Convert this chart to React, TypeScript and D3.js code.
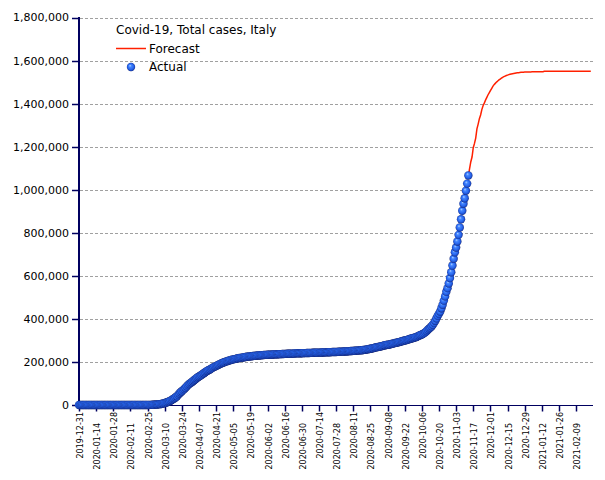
import React from "react";
import * as d3 from "d3";

const TITLE = "Covid-19, Total cases, Italy";
const SERIES_NAMES = ["Forecast", "Actual"];

// Actual: daily totals starting 2019-12-31
const ACTUAL_START = "2019-12-31";
const ACTUAL = [
  // Dec 31
  0,
  // Jan
  0, 0, 0, 0, 0, 0, 0, 0, 0, 0, 0, 0, 0, 0, 0, 0, 0, 0, 0, 0, 0, 0, 0, 0, 0, 0, 0, 0, 0, 0, 2,
  // Feb
  2, 2, 2, 2, 2, 2, 3, 3, 3, 3, 3, 3, 3, 3, 3, 3, 3, 3, 3, 3, 3, 20, 79, 155, 229, 322, 400, 650, 888,
  // Mar
  1128, 1694, 2036, 2502, 3089, 3858, 4636, 5883, 7375, 9172, 10149, 12462, 15113, 17660, 21157, 24747,
  27980, 31506, 35713, 41035, 47021, 53578, 59138, 63927, 69176, 74386, 80539, 86498, 92472, 97689, 101739,
  // Apr
  105792, 110574, 115242, 119827, 124632, 128948, 132547, 135586, 139422, 143626, 147577, 152271, 156363,
  159516, 162488, 165155, 168941, 172434, 175925, 178972, 181228, 183957, 187327, 189973, 192994, 195351,
  197675, 199414, 201505, 203591,
  // May
  205463, 207428, 209328, 210717, 211938, 213013, 214457, 215858, 217185, 218268, 219070, 219814, 221216,
  222104, 223096, 223885, 224760, 225435, 225886, 226699, 227364, 228006, 228658, 229327, 229858, 230158,
  230555, 231139, 231732, 232248, 232664,
  // Jun
  233019, 233197, 233515, 233836, 234013, 234531, 234801, 234998, 235278, 235561, 235763, 236142, 236305,
  236651, 236989, 237290, 237500, 237828, 238159, 238275, 238499, 238720, 238833, 239410, 239706, 239961,
  240136, 240310, 240436, 240578,
  // Jul
  240760, 240961, 241184, 241419, 241611, 241819, 241956, 242149, 242363, 242639, 242827, 243061, 243230,
  243344, 243506, 243736, 243967, 244216, 244434, 244624, 244752, 245032, 245338, 245590, 245864, 246118,
  246286, 246488, 246776, 247158, 247537,
  // Aug
  247832, 248070, 248229, 248419, 248803, 249204, 249756, 250103, 250566, 250825, 251237, 251713, 252235,
  252809, 253438, 253915, 254235, 254636, 255278, 256118, 257065, 258136, 259345, 260298, 261174, 262540,
  263949, 265409, 266853, 268218, 269214,
  // Sep
  270189, 271515, 272912, 274644, 276338, 277634, 278784, 279890, 280153, 281583, 283180, 284796, 286297,
  287753, 288761, 289990, 291442, 293025, 294932, 296569, 298156, 299506, 300897, 302537, 304323, 306235,
  308104, 309870, 311364, 313011,
  // Oct
  314861, 317409, 319908, 322751, 325329, 327586, 330263, 333940, 338398, 343770, 349494, 354950, 359569,
  365467, 372799, 381602, 391611, 402536, 414241, 423578, 434449, 449648, 465726, 484869, 504509, 525782,
  542789, 564778, 589766, 616595, 647674,
  // Nov 1-13
  679430, 709335, 731588, 759829, 790377, 824879, 862681, 902490, 935104, 960373, 995463, 1028424, 1066401,
];

// Forecast: daily totals starting 2020-11-13
const FORECAST_START = "2020-11-13";
const FORECAST = [
  1066000, 1098000, 1130000, 1152000, 1195000, 1215000, 1240000, 1283000, 1305000, 1330000,
  1347000, 1372000, 1390000, 1402000, 1416000, 1428000, 1440000, 1450000, 1460000, 1470000,
  1480000, 1488000, 1494000, 1500000, 1505000, 1510000, 1514000, 1518000, 1522000, 1525000,
  1528000, 1530500, 1532500, 1534500, 1536500, 1538000, 1539200, 1540300, 1541300, 1542300,
  1543100, 1543900, 1544600, 1545200, 1545700, 1546100, 1546500, 1546800, 1547000, 1547200,
  1547300, 1547400, 1547500, 1547600, 1547600, 1547700, 1547700, 1547800, 1547800, 1547800,
  1547800, 1547900, 1549800, 1549900, 1549900, 1549900, 1550000, 1550000, 1550000, 1550000,
  1550000, 1550000, 1550100, 1550100, 1550100, 1550100, 1550100, 1550100, 1550100, 1550100,
  1550100, 1550100, 1550100, 1550100, 1550100, 1550100, 1550100, 1550100, 1550100, 1550100,
  1550100, 1550100, 1550100, 1550100, 1550100, 1550100, 1550100, 1550100, 1550100, 1550100,
  1550100,
];

const X_TICK_LABELS = [
  "2019-12-31", "2020-01-14", "2020-01-28", "2020-02-11", "2020-02-25", "2020-03-10",
  "2020-03-24", "2020-04-07", "2020-04-21", "2020-05-05", "2020-05-19", "2020-06-02",
  "2020-06-16", "2020-06-30", "2020-07-14", "2020-07-28", "2020-08-11", "2020-08-25",
  "2020-09-08", "2020-09-22", "2020-10-06", "2020-10-20", "2020-11-03", "2020-11-17",
  "2020-12-01", "2020-12-15", "2020-12-29", "2021-01-12", "2021-01-26", "2021-02-09",
];
const X_END = "2021-02-22T19:00";

const Y_TICKS = [0, 200000, 400000, 600000, 800000, 1000000, 1200000, 1400000, 1600000, 1800000];

const parse = d3.utcParse("%Y-%m-%d");
const parseT = d3.utcParse("%Y-%m-%dT%H:%M");
const DAY = 86400000;

export default function App() {
  const start = parse(ACTUAL_START)!;
  const fStart = parse(FORECAST_START)!;
  const x = d3.scaleUtc().domain([start, parseT(X_END)!]).range([79, 593]);
  const y = d3.scaleLinear().domain([0, 1800000]).range([405, 17.5]);
  const fmt = d3.format(",");

  const actualPts = ACTUAL.map((v, i) => ({ d: new Date(+start + i * DAY), v }));
  const forecastPts = FORECAST.map((v, i) => ({ d: new Date(+fStart + i * DAY), v }));
  const line = d3
    .line<{ d: Date; v: number }>()
    .x((p) => x(p.d))
    .y((p) => y(p.v));

  const navy = "#000060";
  const font = "'DejaVu Sans', Verdana, sans-serif";

  return (
    <div style={{ position: "absolute", left: 0, top: 0 }}>
      <svg width={605} height={480} style={{ display: "block", background: "#fff" }}>
        <defs>
          <radialGradient id="ball" cx="50%" cy="50%" r="52%" fx="38%" fy="32%">
            <stop offset="0%" stopColor="#b4d4ff" />
            <stop offset="30%" stopColor="#4486ff" />
            <stop offset="68%" stopColor="#2764ea" />
            <stop offset="88%" stopColor="#1a44b8" />
            <stop offset="100%" stopColor="#0c1c6a" />
          </radialGradient>
        </defs>

        {/* grid */}
        {Y_TICKS.filter((t) => t > 0).map((t) => (
          <line
            key={"g" + t}
            x1={80}
            x2={593}
            y1={Math.round(y(t)) + 0.5}
            y2={Math.round(y(t)) + 0.5}
            stroke="#a0a0a0"
            strokeWidth={1}
            strokeDasharray="3,2"
          />
        ))}

        {/* y axis */}
        <line x1={79} x2={79} y1={17} y2={405} stroke={navy} strokeWidth={2} />
        {Y_TICKS.map((t) => (
          <g key={"y" + t}>
            <line x1={72} x2={79} y1={Math.round(y(t)) + 0.5} y2={Math.round(y(t)) + 0.5} stroke={navy} strokeWidth={1.5} />
            <text
              x={69}
              y={y(t)}
              dy="0.36em"
              textAnchor="end"
              fontFamily={font}
              fontSize={11}
              fill="#000"
            >
              {fmt(t)}
            </text>
          </g>
        ))}

        {/* x axis */}
        <line x1={78} x2={593} y1={405.5} y2={405.5} stroke={navy} strokeWidth={1} />
        {X_TICK_LABELS.map((lab, i) => {
          const xx = Math.round(x(parse(lab)!)) + 0.5;
          const yEnd = i % 2 === 0 ? 412 : 423;
          return (
            <g key={lab}>
              <line x1={xx} x2={xx} y1={405} y2={411.5} stroke={navy} strokeWidth={1.5} />
              <text
                transform={`translate(${xx + 3},${yEnd}) rotate(-90)`}
                textAnchor="end"
                fontFamily={font}
                fontSize={8}
                fill="#000"
              >
                {lab}
              </text>
            </g>
          );
        })}

        {/* forecast */}
        <path d={line(forecastPts)!} fill="none" stroke="#ff2000" strokeWidth={1.5} />

        {/* actual */}
        {actualPts.map((p, i) => (
          <circle key={i} cx={x(p.d)} cy={y(p.v)} r={4.2} fill="url(#ball)" />
        ))}

        {/* legend */}
        <text x={116} y={34} fontFamily={font} fontSize={12} fill="#000">
          {TITLE}
        </text>
        <line x1={116} x2={146} y1={48.5} y2={48.5} stroke="#ff2000" strokeWidth={1.5} />
        <text x={149} y={53} fontFamily={font} fontSize={12} fill="#000">
          {SERIES_NAMES[0]}
        </text>
        <circle cx={131} cy={67} r={4.2} fill="url(#ball)" />
        <text x={149} y={71} fontFamily={font} fontSize={12} fill="#000">
          {SERIES_NAMES[1]}
        </text>
      </svg>
    </div>
  );
}
